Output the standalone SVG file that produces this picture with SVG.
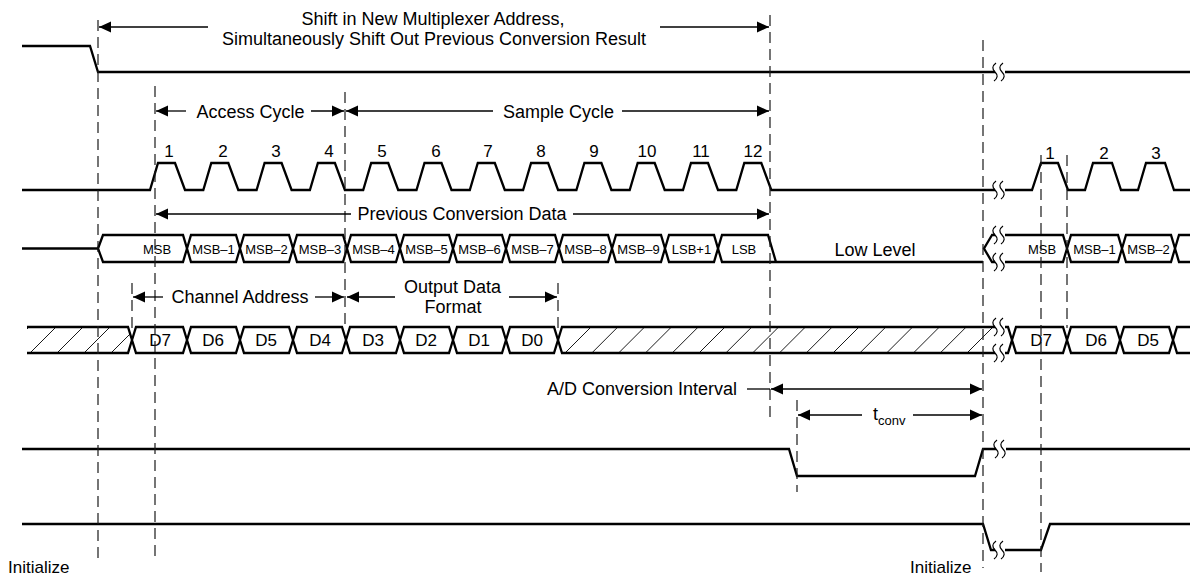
<svg xmlns="http://www.w3.org/2000/svg" width="1190" height="575" viewBox="0 0 1190 575">
<style>
.sig{fill:none;stroke:#000;stroke-width:2.3;stroke-linejoin:miter}
.cell{fill:#fff;stroke:#000;stroke-width:2.3;stroke-linejoin:miter}
.dash{fill:none;stroke:#1a1a1a;stroke-width:1.2;stroke-dasharray:11 6}
.arr{fill:none;stroke:#000;stroke-width:1.3}
.brk{fill:none;stroke:#000;stroke-width:1.2}
.hatch{stroke:#000;stroke-width:0.9}
text{font-family:"Liberation Sans",Arial,sans-serif;fill:#000}
.lbl{font-size:18px}
.num{font-size:17px;text-anchor:middle}
.bus{font-size:13px;text-anchor:middle}
.d{font-size:17px;text-anchor:middle}
.c{text-anchor:middle}
</style>
<defs>
<marker id="ah" viewBox="0 0 12 12" refX="12" refY="6" markerWidth="12" markerHeight="12" markerUnits="userSpaceOnUse" orient="auto-start-reverse"><path d="M0,0.5 L12,6 L0,11.5 z" fill="#000"/></marker>
<clipPath id="hl"><polygon points="27,327 128,327 132,340 128,353 27,353"/></clipPath>
<clipPath id="hr"><polygon points="562,327 994,327 994,353 562,353 558,340"/></clipPath>
<g id="bm"><path class="brk" d="M-2,-9 C-6,-6 -6,-3 -3,0 C0,3 0,6 -4,9 M5,-9 C1,-6 1,-3 4,0 C7,3 7,6 3,9"/></g>
</defs>
<rect width="1190" height="575" fill="#fff"/>

<!-- signals -->
<g id="sig-cs">
<path class="sig" d="M22,46 H90 L98,72 H1190"/>
<rect x="995" y="68" width="10" height="8" fill="#fff"/>
<use href="#bm" x="998" y="72"/>
</g>

<g id="sig-clk">
<path class="sig" d="M22,190 H150 L158,163 H175 L185,190 H203.3 L211.3,163 H228.3 L238.3,190 H256.6 L264.6,163 H281.6 L291.6,190 H309.9 L317.9,163 H334.9 L344.9,190 H363.2 L371.2,163 H388.2 L398.2,190 H416.5 L424.5,163 H441.5 L451.5,190 H469.8 L477.8,163 H494.8 L504.8,190 H523.1 L531.1,163 H548.1 L558.1,190 H576.4 L584.4,163 H601.4 L611.4,190 H629.7 L637.7,163 H654.7 L664.7,190 H683 L691,163 H708 L718,190 H736.3 L744.3,163 H761.3 L771.3,190 H1032 L1041,163 H1058 L1068,190 H1085 L1093,163 H1112 L1121,190 H1138 L1146,163 H1165 L1174,190 H1190"/>
<rect x="995" y="186" width="10" height="8" fill="#fff"/>
<use href="#bm" x="998" y="190"/>
<text class="num" x="169" y="157">1</text>
<text class="num" x="223" y="157">2</text>
<text class="num" x="276" y="157">3</text>
<text class="num" x="329" y="157">4</text>
<text class="num" x="382" y="157">5</text>
<text class="num" x="436" y="157">6</text>
<text class="num" x="488" y="157">7</text>
<text class="num" x="541" y="157">8</text>
<text class="num" x="594" y="157">9</text>
<text class="num" x="647" y="157">10</text>
<text class="num" x="701" y="157">11</text>
<text class="num" x="753" y="157">12</text>
<text class="num" x="1050" y="159">1</text>
<text class="num" x="1104" y="159">2</text>
<text class="num" x="1156" y="159">3</text>
</g>

<g id="sig-dout">
<path class="sig" d="M22,248.5 H98"/>
<path class="cell" d="M98,248.5 L103,235 H183 L187,248.5 L183,262 H103 Z"/>
<path class="cell" d="M187,248.5 L191,235 H236 L240,248.5 L236,262 H191 Z"/>
<path class="cell" d="M240,248.5 L244,235 H289 L293,248.5 L289,262 H244 Z"/>
<path class="cell" d="M293,248.5 L297,235 H343 L347,248.5 L343,262 H297 Z"/>
<path class="cell" d="M347,248.5 L351,235 H396 L400,248.5 L396,262 H351 Z"/>
<path class="cell" d="M400,248.5 L404,235 H449 L453,248.5 L449,262 H404 Z"/>
<path class="cell" d="M453,248.5 L457,235 H502 L506,248.5 L502,262 H457 Z"/>
<path class="cell" d="M506,248.5 L510,235 H555 L559,248.5 L555,262 H510 Z"/>
<path class="cell" d="M559,248.5 L563,235 H608 L612,248.5 L608,262 H563 Z"/>
<path class="cell" d="M612,248.5 L616,235 H661 L665,248.5 L661,262 H616 Z"/>
<path class="cell" d="M665,248.5 L669,235 H714 L718,248.5 L714,262 H669 Z"/>
<path class="sig" d="M718,248.5 L722,235 H768 L776,262 H983 M718,248.5 L722,262 H776"/>
<path class="sig" d="M992,235 L984,248.5 L992,262 H1063 L1067,248.5 L1063,235 Z"/>
<path class="cell" d="M1067,248.5 L1071,235 H1118 L1122,248.5 L1118,262 H1071 Z"/>
<path class="cell" d="M1122,248.5 L1126,235 H1171 L1175,248.5 L1171,262 H1126 Z"/>
<path class="sig" d="M1175,248.5 L1179,235 H1195 M1175,248.5 L1179,262 H1195"/>
<rect x="995" y="231" width="10" height="8" fill="#fff"/>
<rect x="995" y="258" width="10" height="8" fill="#fff"/>
<use href="#bm" x="998" y="235"/>
<use href="#bm" x="998" y="262"/>
<text class="bus" x="157" y="253.5">MSB</text>
<text class="bus" x="213.5" y="253.5">MSB–1</text>
<text class="bus" x="266.5" y="253.5">MSB–2</text>
<text class="bus" x="320" y="253.5">MSB–3</text>
<text class="bus" x="373.5" y="253.5">MSB–4</text>
<text class="bus" x="426.5" y="253.5">MSB–5</text>
<text class="bus" x="479.5" y="253.5">MSB–6</text>
<text class="bus" x="532.5" y="253.5">MSB–7</text>
<text class="bus" x="585.5" y="253.5">MSB–8</text>
<text class="bus" x="638.5" y="253.5">MSB–9</text>
<text class="bus" x="691.5" y="253.5">LSB+1</text>
<text class="bus" x="744" y="253.5">LSB</text>
<text class="lbl c" x="875" y="256">Low Level</text>
<text class="bus" x="1042" y="253.5">MSB</text>
<text class="bus" x="1094.5" y="253.5">MSB–1</text>
<text class="bus" x="1148.5" y="253.5">MSB–2</text>
</g>

<g id="sig-din">
<g clip-path="url(#hl)">
<path class="hatch" d="M3,353 L29,327 M30,353 L56,327 M57,353 L83,327 M84,353 L110,327 M111,353 L137,327"/>
</g>
<path class="sig" d="M27,327 H128 L132,340 L128,353 H27"/>
<path class="cell" d="M132,340 L136,327 H183 L187,340 L183,353 H136 Z"/>
<path class="cell" d="M187,340 L191,327 H236 L240,340 L236,353 H191 Z"/>
<path class="cell" d="M240,340 L244,327 H289 L293,340 L289,353 H244 Z"/>
<path class="cell" d="M293,340 L297,327 H342 L346,340 L342,353 H297 Z"/>
<path class="cell" d="M346,340 L350,327 H396 L400,340 L396,353 H350 Z"/>
<path class="cell" d="M400,340 L404,327 H449 L453,340 L449,353 H404 Z"/>
<path class="cell" d="M453,340 L457,327 H502 L506,340 L502,353 H457 Z"/>
<path class="cell" d="M506,340 L510,327 H554 L558,340 L554,353 H510 Z"/>
<g clip-path="url(#hr)">
<path class="hatch" d="M565,353 L591,327 M591.8,353 L617.8,327 M618.6,353 L644.6,327 M645.4,353 L671.4,327 M672.2,353 L698.2,327 M699,353 L725,327 M725.8,353 L751.8,327 M752.6,353 L778.6,327 M779.4,353 L805.4,327 M806.2,353 L832.2,327 M833,353 L859,327 M859.8,353 L885.8,327 M886.6,353 L912.6,327 M913.4,353 L939.4,327 M940.2,353 L966.2,327 M967,353 L993,327"/>
</g>
<path class="sig" d="M558,340 L562,327 H1008 L1012,340 L1008,353 H562 Z"/>
<path class="cell" d="M1012,340 L1016,327 H1063 L1067,340 L1063,353 H1016 Z"/>
<path class="cell" d="M1067,340 L1071,327 H1116 L1120,340 L1116,353 H1071 Z"/>
<path class="cell" d="M1120,340 L1124,327 H1169 L1173,340 L1169,353 H1124 Z"/>
<path class="sig" d="M1173,340 L1177,327 H1195 M1173,340 L1177,353 H1195"/>
<rect x="995" y="323" width="10" height="8" fill="#fff"/>
<rect x="995" y="349" width="10" height="8" fill="#fff"/>
<use href="#bm" x="998" y="327"/>
<use href="#bm" x="998" y="353"/>
<text class="d" x="160" y="346">D7</text>
<text class="d" x="213" y="346">D6</text>
<text class="d" x="266" y="346">D5</text>
<text class="d" x="320" y="346">D4</text>
<text class="d" x="373" y="346">D3</text>
<text class="d" x="426" y="346">D2</text>
<text class="d" x="479" y="346">D1</text>
<text class="d" x="532" y="346">D0</text>
<text class="d" x="1041" y="346">D7</text>
<text class="d" x="1096" y="346">D6</text>
<text class="d" x="1148" y="346">D5</text>
</g>

<g id="sig-eoc">
<path class="sig" d="M22,449 H789 L797,476 H975 L983,449 H1190"/>
<rect x="996" y="445" width="10" height="8" fill="#fff"/>
<use href="#bm" x="999" y="449"/>
</g>

<g id="sig-init">
<path class="sig" d="M22,524 H983 L991,550 H1041 L1050,524 H1190"/>
<rect x="995" y="546" width="10" height="8" fill="#fff"/>
<use href="#bm" x="998" y="550"/>
<text class="lbl" x="8" y="573" style="font-size:17px">Initialize</text>
<text class="lbl" x="910" y="573" style="font-size:17px">Initialize</text>
</g>

<!-- dashed reference lines and dimension arrows -->
<g id="connectors">
<path class="dash" d="M98,20 V558"/>
<path class="dash" d="M155,86 V558"/>
<path class="dash" d="M345,92 V330"/>
<path class="dash" d="M132,283 V328"/>
<path class="dash" d="M558,283 V328"/>
<path class="dash" d="M770,15 V417"/>
<path class="dash" d="M797,400 V492"/>
<path class="dash" d="M983,40 V568"/>
<path class="dash" d="M1041,155 V572"/>
<path class="dash" d="M1067,155 V328"/>

<path class="arr" d="M208,27 H99" marker-end="url(#ah)"/>
<path class="arr" d="M660,27 H769" marker-end="url(#ah)"/>
<path class="arr" d="M186,111 H156" marker-end="url(#ah)"/>
<path class="arr" d="M311,111 H344" marker-end="url(#ah)"/>
<path class="arr" d="M493,111 H346" marker-end="url(#ah)"/>
<path class="arr" d="M622,111 H769" marker-end="url(#ah)"/>
<path class="arr" d="M351,214 H156" marker-end="url(#ah)"/>
<path class="arr" d="M573,214 H769" marker-end="url(#ah)"/>
<path class="arr" d="M163,297 H133" marker-end="url(#ah)"/>
<path class="arr" d="M315,297 H344" marker-end="url(#ah)"/>
<path class="arr" d="M395,297 H347" marker-end="url(#ah)"/>
<path class="arr" d="M509,297 H557" marker-end="url(#ah)"/>
<path class="arr" d="M747,389 H770"/>
<path class="arr" d="M771,389 H982" marker-start="url(#ah)" marker-end="url(#ah)"/>
<path class="arr" d="M862,415 H798" marker-end="url(#ah)"/>
<path class="arr" d="M913,415 H982" marker-end="url(#ah)"/>
</g>

<g id="labels">
<text class="lbl c" x="433" y="25">Shift in New Multiplexer Address,</text>
<text class="lbl c" x="434" y="45">Simultaneously Shift Out Previous Conversion Result</text>
<text class="lbl c" x="250.5" y="118">Access Cycle</text>
<text class="lbl c" x="558.5" y="118">Sample Cycle</text>
<text class="lbl c" x="462" y="220">Previous Conversion Data</text>
<text class="lbl c" x="240" y="303">Channel Address</text>
<text class="lbl c" x="452.5" y="293">Output Data</text>
<text class="lbl c" x="453" y="313">Format</text>
<text class="lbl" x="737" y="395" text-anchor="end">A/D Conversion Interval</text>
<text class="lbl" x="873" y="420">t<tspan font-size="13" dy="5">conv</tspan></text>
</g>
</svg>
